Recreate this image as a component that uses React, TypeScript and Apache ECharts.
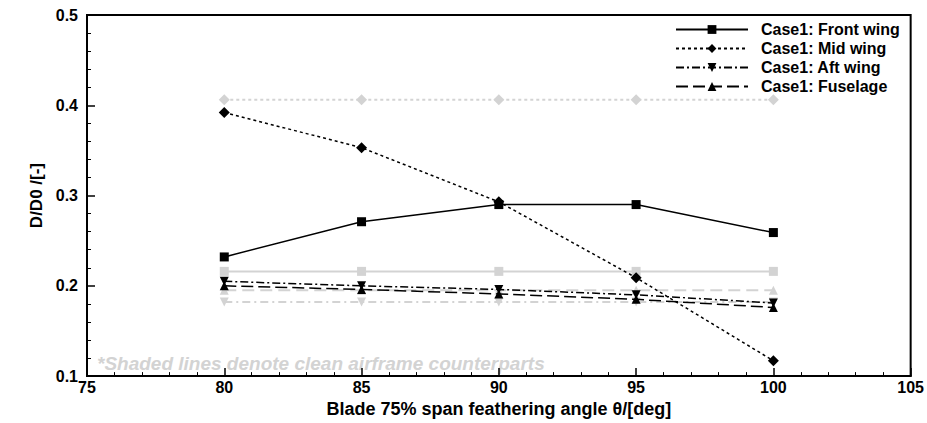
import React, { useEffect, useRef } from "react";
import * as echarts from "echarts";

const angles = [80, 85, 90, 95, 100];
const frontWing = [0.232, 0.271, 0.290, 0.290, 0.259];
const midWing = [0.392, 0.353, 0.293, 0.209, 0.117];
const aftWing = [0.205, 0.2, 0.196, 0.19, 0.181];
const fuselage = [0.2, 0.196, 0.191, 0.185, 0.176];
const frontClean = [0.216, 0.216, 0.216, 0.216, 0.216];
const midClean = [0.406, 0.406, 0.406, 0.406, 0.406];
const aftClean = [0.182, 0.182, 0.182, 0.182, 0.182];
const fuselageClean = [0.195, 0.195, 0.195, 0.195, 0.195];
const seriesNames = ["Case1: Front wing", "Case1: Mid wing", "Case1: Aft wing", "Case1: Fuselage"];
const note = "*Shaded lines denote clean airframe counterparts";

const FONT = "'Liberation Sans', Arial, Helvetica, sans-serif";
const DOWN_TRI = "path://M0,0L10,0L5,9Z";
const UP_TRI = "path://M5,0L10,9L0,9Z";

function pairs(vals: number[]) {
  return angles.map((a, i) => [a, vals[i]]);
}

export default function App() {
  const ref = useRef<HTMLDivElement>(null);
  useEffect(() => {
    if (!ref.current) return;
    const chart = echarts.init(ref.current, undefined, { renderer: "svg" });
    const gray = "#d3d3d3";
    const mk = (
      name: string,
      vals: number[],
      color: string,
      symbol: string,
      size: number,
      type: any,
      width: number,
      z: number
    ) => ({
      name,
      type: "line",
      data: pairs(vals),
      symbol,
      symbolSize: size,
      showAllSymbol: true,
      z,
      itemStyle: { color },
      lineStyle: { color, width, type },
      emphasis: { disabled: true },
    });
    chart.setOption({
      animation: false,
      grid: {
        left: 87,
        right: 15,
        top: 15,
        bottom: 40,
        show: true,
        borderColor: "#000",
        borderWidth: 2,
      },
      legend: {
        data: seriesNames,
        orient: "vertical",
        left: 670,
        top: 15,
        align: "left",
        itemWidth: 72,
        itemHeight: 11,
        itemGap: 0,
        textStyle: {
          fontFamily: FONT,
          fontWeight: "bold",
          fontSize: 16,
          lineHeight: 19,
          color: "#000",
          padding: [0, 0, 0, 8],
        },
      },
      xAxis: {
        type: "value",
        min: 75,
        max: 105,
        interval: 5,
        name: "Blade 75% span feathering angle θ/[deg]",
        nameLocation: "middle",
        nameGap: 18,
        nameTextStyle: { fontFamily: FONT, fontWeight: "bold", fontSize: 18, color: "#000" },
        axisLine: { onZero: false, lineStyle: { color: "#000", width: 2 } },
        axisTick: { inside: true, length: 8, lineStyle: { color: "#000", width: 1.5 } },
        minorTick: { show: true, splitNumber: 5, length: 4, lineStyle: { color: "#000", width: 1 } },
        splitLine: { show: false },
        axisLabel: { fontFamily: FONT, fontWeight: "bold", fontSize: 16, color: "#000", margin: 3 },
      },
      yAxis: {
        type: "value",
        min: 0.1,
        max: 0.5,
        interval: 0.1,
        name: "D/D0 /[-]",
        nameLocation: "middle",
        nameGap: 42,
        nameRotate: 90,
        nameTextStyle: { fontFamily: FONT, fontWeight: "bold", fontSize: 17, color: "#000" },
        axisLine: { lineStyle: { color: "#000", width: 2 } },
        axisTick: { inside: true, length: 8, lineStyle: { color: "#000", width: 1.5 } },
        minorTick: { show: true, splitNumber: 5, length: 4, lineStyle: { color: "#000", width: 1 } },
        splitLine: { show: false },
        axisLabel: {
          fontFamily: FONT,
          fontWeight: "bold",
          fontSize: 16,
          color: "#000",
          margin: 9,
          formatter: (v: number) => v.toFixed(1),
        },
      },
      series: [
        mk("Front clean", frontClean, gray, "rect", 9, "solid", 2, 1),
        mk("Mid clean", midClean, gray, "diamond", 11, [3, 3], 2, 1),
        mk("Aft clean", aftClean, gray, DOWN_TRI, 9, [8, 4, 2, 4], 2, 1),
        mk("Fuselage clean", fuselageClean, gray, UP_TRI, 9, [12, 6], 2, 1),
        mk(seriesNames[0], frontWing, "#000", "rect", 9, "solid", 1.5, 3),
        mk(seriesNames[1], midWing, "#000", "diamond", 11, [3, 3], 1.5, 3),
        mk(seriesNames[2], aftWing, "#000", DOWN_TRI, 9, [8, 3, 2, 3], 1.5, 3),
        mk(seriesNames[3], fuselage, "#000", UP_TRI, 9, [12, 5], 1.5, 3),
      ],
      graphic: [
        {
          type: "text",
          left: 97,
          top: 354,
          style: {
            text: note,
            fontFamily: FONT,
            fontWeight: "bold",
            fontStyle: "italic",
            fontSize: 19,
            fill: "#d3d3d3",
          },
        },
      ],
    });
    return () => chart.dispose();
  }, []);
  return <div ref={ref} style={{ width: 927, height: 423, position: "absolute", left: 0, top: 0, background: "#fff" }} />;
}
